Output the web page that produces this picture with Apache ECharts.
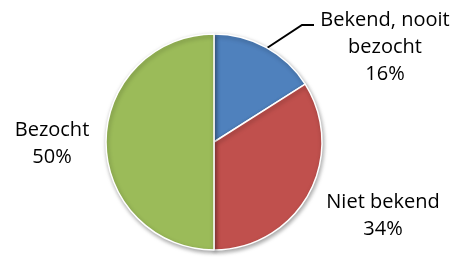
<!DOCTYPE html>
<html lang="nl">
<head>
    <meta charset="UTF-8">
    <title>Bekendheid</title>
    <script src="https://cdn.jsdelivr.net/npm/echarts@6/dist/echarts.min.js"></script>
    <style>
        html, body { margin: 0; padding: 0; background: #fff; }
        #chart { width: 459px; height: 257px; }
    </style>
</head>
<body>
    <div id="chart"></div>
    <script>
        // categories and shares (percent)
        var categories = ['Bekend, nooit\nbezocht', 'Niet bekend', 'Bezocht'];
        var values = [16, 34, 50];
        var colors = ['#4F81BD', '#C0504D', '#9BBB59'];

        // label anchor points, one per slice
        var labelPos = [[385, 47], [383, 216], [52, 144]];

        var chart = echarts.init(document.getElementById('chart'));

        var data = categories.map(function (name, i) {
            return {
                name: name,
                value: values[i],
                itemStyle: { color: colors[i] },
                labelLine: { show: i === 0 }
            };
        });

        chart.setOption({
            animation: false,
            series: [{
                type: 'pie',
                center: [214, 142],
                radius: 108,
                startAngle: 90,
                clockwise: true,
                avoidLabelOverlap: false,
                itemStyle: {
                    borderColor: '#fff',
                    borderWidth: 1.5,
                    shadowColor: 'rgba(0,0,0,0.35)',
                    shadowBlur: 4,
                    shadowOffsetX: 1,
                    shadowOffsetY: 2
                },
                label: {
                    show: true,
                    position: 'outside',
                    formatter: function (p) { return p.name + '\n' + p.value + '%'; },
                    fontFamily: 'Open Sans',
                    fontSize: 20,
                    lineHeight: 27,
                    color: '#000',
                    align: 'center'
                },
                labelLine: {
                    lineStyle: { color: '#000', width: 2 }
                },
                labelLayout: function (p) {
                    var pos = labelPos[p.dataIndex];
                    var res = {
                        x: pos[0],
                        y: pos[1],
                        align: 'center',
                        verticalAlign: 'middle'
                    };
                    if (p.dataIndex === 0) {
                        res.labelLinePoints = [[267, 48], [302, 25], [314, 25]];
                    }
                    return res;
                },
                emphasis: { disabled: true },
                data: data
            }]
        });
    </script>
</body>
</html>
